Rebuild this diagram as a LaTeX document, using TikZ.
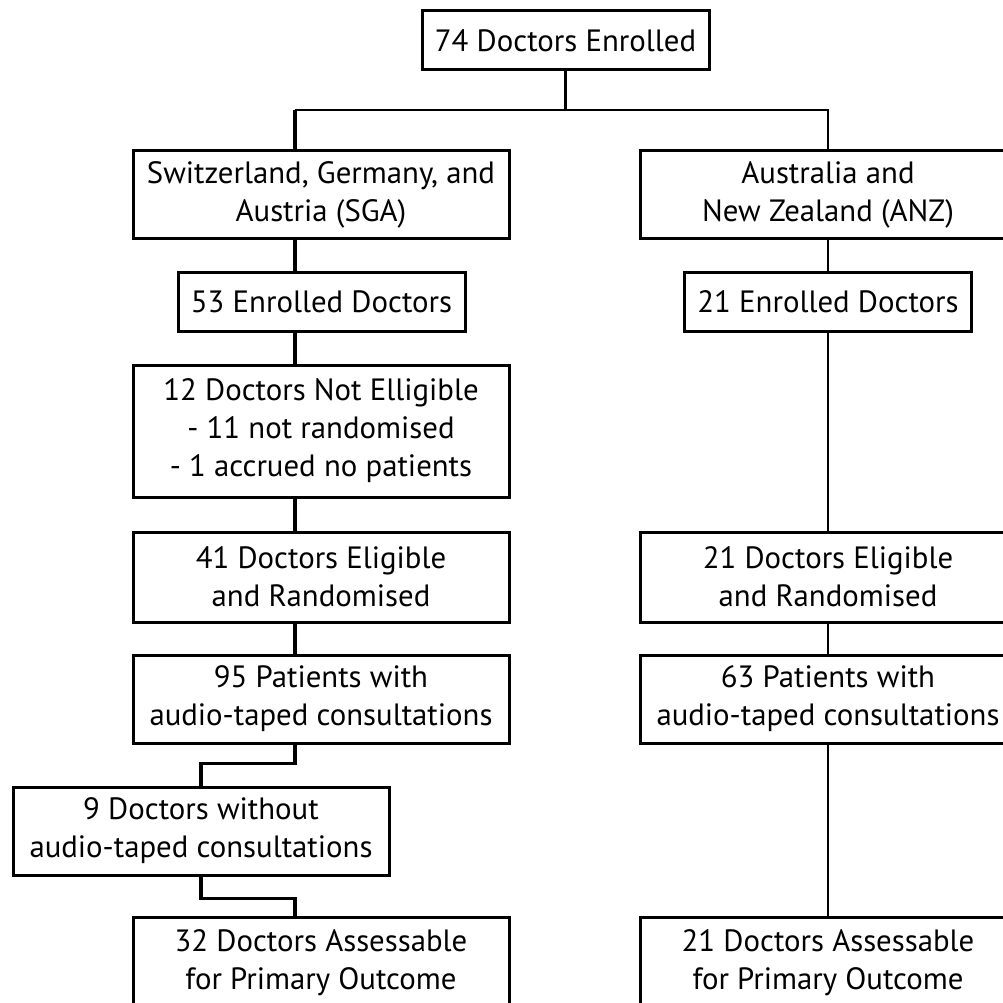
\documentclass[tikz,border=0pt]{standalone}
\usepackage{fontspec}
\setmainfont{PT Sans}
\begin{document}
\begin{tikzpicture}[x=1pt,y=-1pt,
  font=\fontsize{30.8}{38}\selectfont,
  box/.style={draw, line width=3pt, align=center, inner sep=0pt, minimum width=376pt, minimum height=88pt},
  smallbox/.style={box, minimum width=287pt, minimum height=59pt},
  heavy/.style={line width=3.2pt},
  light/.style={line width=2pt}]
\clip (0,0) rectangle (1003,1003);
\coordinate (trunk) at (295,0);
\node[smallbox] (enrolled) at (565.5,40.5) {74 Doctors Enrolled};
\coordinate (split) at (565.5,110);
\node[box] (sga) at (321,194.5) {Switzerland, Germany, and\\Austria (SGA)};
\node[box] (anz) at (828,194.5) {Australia and\\New Zealand (ANZ)};
\node[smallbox] (sgaenrol) at (321.5,301.5) {53 Enrolled Doctors};
\node[smallbox] (anzenrol) at (828,301.5) {21 Enrolled Doctors};
\node[box, minimum height=132pt] (sgaexcl) at (321,431) {12 Doctors Not Elligible\\- 11 not randomised\\- 1 accrued no patients};
\node[box, minimum height=90pt] (sgarand) at (321,577) {41 Doctors Eligible\\and Randomised};
\node[box, minimum height=90pt] (anzrand) at (828,577) {21 Doctors Eligible\\and Randomised};
\node[box] (sgapat) at (321,699) {95 Patients with\\audio-taped consultations};
\node[box] (anzpat) at (828,699) {63 Patients with\\audio-taped consultations};
\node[box] (noaudio) at (201,831) {9 Doctors without\\audio-taped consultations};
\node[box, minimum height=92pt] (sgaout) at (321,963) {32 Doctors Assessable\\for Primary Outcome};
\node[box, minimum height=92pt] (anzout) at (828,963) {21 Doctors Assessable\\for Primary Outcome};
\draw[heavy] (enrolled.south) -- (split);
\draw[light] (trunk |- split) -- (anz.north |- split) -- (anz.north);
\draw[heavy] (trunk |- split) -- (trunk |- sga.north);
\draw[heavy] (trunk |- sga.south) -- (trunk |- sgaenrol.north);
\draw[heavy] (trunk |- sgaenrol.south) -- (trunk |- sgaexcl.north);
\draw[heavy] (trunk |- sgaexcl.south) -- (trunk |- sgarand.north);
\draw[heavy] (trunk |- sgarand.south) -- (trunk |- sgapat.north);
\draw[heavy] (trunk |- sgapat.south) -- ++(0,19) -| (noaudio.north);
\draw[heavy] (noaudio.south) -- ++(0,22) -| (trunk |- sgaout.north);
\draw[light] (anz.south) -- (anzenrol.north);
\draw[light] (anzenrol.south) -- (anzrand.north);
\draw[light] (anzrand.south) -- (anzpat.north);
\draw[light] (anzpat.south) -- (anzout.north);
\end{tikzpicture}
\end{document}
